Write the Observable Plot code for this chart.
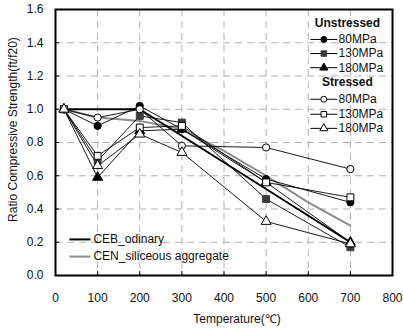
<!DOCTYPE html>
<html>
<head>
<meta charset="utf-8">
<script src="https://cdn.jsdelivr.net/npm/d3@7"></script>
<script src="https://cdn.jsdelivr.net/npm/@observablehq/plot@0.6"></script>
<style>
  html, body { margin: 0; padding: 0; background: #fff; }
  #chart { width: 403px; height: 330px; }
</style>
</head>
<body>
<div id="chart"></div>
<script>
// ---- data ----
const temps = [20, 100, 200, 300, 500, 700];
const unstressed80  = [1.00, 0.90, 1.02, 0.88, 0.58, 0.44];
const unstressed130 = [1.00, 0.69, 0.96, 0.92, 0.46, 0.17];
const unstressed180 = [1.00, 0.59, 0.87, 0.88, 0.56, 0.20];
const stressed80    = [1.00, 0.95, 1.00, 0.78, 0.77, 0.64];
const stressed130   = [1.00, 0.72, 0.89, 0.90, 0.56, 0.47];
const stressed180   = [1.00, 0.66, 0.85, 0.74, 0.325, 0.19];
const cebTemps = [20, 200, 700];
const cebValues = [1.0, 1.0, 0.2];
const cenTemps = [20, 100, 200, 300, 400, 500, 600, 700];
const cenValues = [1.0, 0.95, 0.93, 0.88, 0.75, 0.60, 0.44, 0.30];
const xTicks = [0, 100, 200, 300, 400, 500, 600, 700, 800];
const yTicks = [0, 0.2, 0.4, 0.6, 0.8, 1.0, 1.2, 1.4, 1.6];
const seriesNames = ["80MPa", "130MPa", "180MPa", "80MPa", "130MPa", "180MPa"];
const groupTitles = ["Unstressed", "Stressed"];
const refNames = ["CEB_odinary", "CEN_siliceous aggregate"];

// ---- build ----
const seriesValues = [unstressed80, unstressed130, unstressed180, stressed80, stressed130, stressed180];
const symbols = ["circle", "square", "triangle", "circle", "square", "triangle"];
const fills = ["black", "#3c3c3c", "black", "white", "white", "white"];
const strokes = ["black", "#3c3c3c", "black", "black", "black", "black"];
const radii = {circle: 3.6, square: 3.9, triangle: 3.7};

const series = seriesValues.map((vals, i) => ({
  id: i, symbol: symbols[i], fill: fills[i], stroke: strokes[i],
  rows: temps.map((t, j) => ({t, v: vals[j]}))
}));
const ceb = cebTemps.map((t, i) => ({t, v: cebValues[i]}));
const cen = cenTemps.map((t, i) => ({t, v: cenValues[i]}));

// legend (positions in data space)
const legX1 = 605, legX2 = 669, legXm = 637, legXt = 672, legXh = 693;
const legRowY = [1.42, 1.335, 1.25, 1.06, 0.97, 0.885];
const legHeadY = [1.515, 1.16];
const legendRows = series.map((s, i) => ({...s, y: legRowY[i], label: seriesNames[i]}));
const refRows = [
  {label: refNames[0], y: 0.217, stroke: "black"},
  {label: refNames[1], y: 0.114, stroke: "#8c8c8c"}
];

const FS = 12;
const marks = [
  Plot.gridX(xTicks.slice(1, -1), {stroke: "#b0b0b0", strokeOpacity: 1, strokeDasharray: "7,5"}),
  Plot.gridY(yTicks.slice(1, -1), {stroke: "#b0b0b0", strokeOpacity: 1, strokeDasharray: "7,5"}),
  Plot.axisX(xTicks, {tickSize: 0, tickPadding: 18, label: null, fontSize: FS, tickFormat: d => String(d)}),
  Plot.axisY(yTicks, {tickSize: 0, tickPadding: 12, label: null, fontSize: FS, tickFormat: d3.format(".1f")}),
  Plot.tickX(xTicks, {x: d => d, insetTop: 262, stroke: "black"}),
  Plot.tickY(yTicks, {y: d => d, insetRight: 333, stroke: "black"}),
  Plot.line(cen, {x: "t", y: "v", stroke: "#8c8c8c", strokeWidth: 2}),
  Plot.line(ceb, {x: "t", y: "v", stroke: "black", strokeWidth: 2}),
];
for (const s of series) {
  marks.push(Plot.line(s.rows, {x: "t", y: "v", stroke: "black", strokeWidth: 0.9}));
}
for (const s of series) {
  marks.push(Plot.dot(s.rows, {x: "t", y: "v", symbol: () => s.symbol, r: radii[s.symbol],
    fill: s.fill, stroke: s.stroke, strokeWidth: 1}));
}
// legend marks
marks.push(
  Plot.link(legendRows, {x1: () => legX1, x2: () => legX2, y1: "y", y2: "y", stroke: "black", strokeWidth: 1}),
  Plot.dot(legendRows, {x: () => legXm, y: "y", symbol: "symbol", r: d => radii[d.symbol], fill: "fill", stroke: "stroke", strokeWidth: 1}),
  Plot.text(legendRows, {x: () => legXt, y: "y", text: "label", textAnchor: "start", fontSize: FS, fill: "#111"}),
  Plot.text(groupTitles, {x: () => legXh, y: (d, i) => legHeadY[i], text: d => d, fontWeight: "bold", fontSize: FS, fill: "#111"}),
  Plot.link(refRows, {x1: () => 33, x2: () => 83, y1: "y", y2: "y", stroke: "stroke", strokeWidth: 2}),
  Plot.text(refRows, {x: () => 90, y: "y", text: "label", textAnchor: "start", fontSize: FS, fill: "#111"}),
  Plot.text(["Temperature(℃)"], {frameAnchor: "bottom", dy: 44, dx: 13, lineAnchor: "middle", textAnchor: "middle", fontSize: FS, fill: "#111"}),
  Plot.text(["Ratio Compressive Strength(ft/f20)"], {frameAnchor: "left", dx: -42, dy: -13, rotate: -90, textAnchor: "middle", lineAnchor: "middle", fontSize: FS, fill: "#111"}),
  Plot.frame({stroke: "black", strokeWidth: 2})
);

const chart = Plot.plot({
  width: 403, height: 330,
  marginLeft: 55, marginRight: 11, marginTop: 9, marginBottom: 55,
  style: {fontFamily: "'Liberation Sans', Arial, sans-serif", fontSize: "12px", color: "#111", background: "white"},
  x: {domain: [0, 800]},
  y: {domain: [0, 1.6]},
  marks
});
document.getElementById("chart").appendChild(chart);
</script>
</body>
</html>
